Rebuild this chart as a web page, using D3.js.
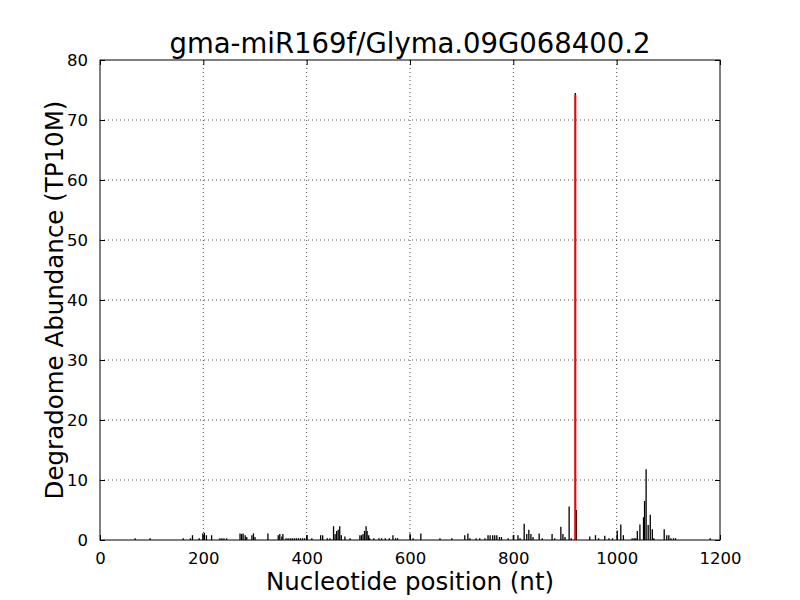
<!DOCTYPE html>
<html>
<head>
<meta charset="utf-8">
<script src="https://cdn.jsdelivr.net/npm/d3@7"></script>
<style>
  body { margin: 0; background: #fff; }
  svg { display: block; font-family: "DejaVu Sans", sans-serif; }
</style>
</head>
<body>
<svg id="chart" width="800" height="600"></svg>
<script>
const title = "gma-miR169f/Glyma.09G068400.2";
const xLabel = "Nucleotide position (nt)";
const yLabel = "Degradome Abundance (TP10M)";
const xTicks = [0, 200, 400, 600, 800, 1000, 1200];
const yTicks = [0, 10, 20, 30, 40, 50, 60, 70, 80];

const positions = [68,97,161,175,179,192,199,202,206,216,232,236,240,245,271,274,277,281,284,294,297,300,325,345,348,352,354,360,364,368,372,376,380,384,388,392,396,400,410,427,431,440,445,452,455,458,461,464,467,474,484,503,506,509,512,515,517,520,522,530,540,545,552,560,567,572,576,600,606,621,658,681,706,712,716,728,735,745,751,755,760,764,768,773,777,790,800,809,813,821,826,830,834,838,850,856,875,880,892,896,900,908,912,920,922,948,959,965,977,985,992,1001,1008,1013,1030,1034,1037,1040,1045,1052,1054,1057,1061,1065,1069,1072,1092,1097,1101,1105,1110,1114,1181];
const abundance = [0.3,0.3,0.3,0.3,0.8,0.3,1.1,1.2,0.8,0.8,0.3,0.3,0.3,0.3,1.1,1.0,1.1,0.8,0.5,0.8,1.1,0.5,1.1,0.8,1.0,0.6,1.0,0.3,0.3,0.3,0.3,0.3,0.3,0.3,0.3,0.3,0.3,0.8,0.3,0.8,0.8,0.3,0.3,2.3,1.0,1.5,1.7,2.3,0.8,0.6,0.3,0.8,0.8,1.0,1.5,2.3,1.5,0.8,0.3,0.3,0.3,0.3,0.3,0.3,0.8,0.3,0.3,1.1,0.3,1.1,0.3,0.3,0.8,1.1,0.3,0.3,0.3,0.3,0.8,0.8,0.8,0.8,0.8,0.5,0.5,0.3,0.8,0.8,0.3,2.7,1.0,1.7,1.0,0.5,1.1,0.3,1.0,0.3,2.2,1.0,0.5,5.6,0.3,74.5,5.0,0.6,0.8,0.3,0.7,0.3,0.3,1.6,2.6,0.8,0.3,0.3,0.3,1.5,2.6,3.8,6.5,11.8,2.5,4.2,1.8,0.3,1.8,0.8,0.8,0.3,0.3,0.3,0.3];
const sitePosition = [920];
const siteAbundance = [74.2];

const svg = d3.select("#chart");
const m = {left: 100, right: 720, top: 60, bottom: 540};
const x = d3.scaleLinear().domain([0, 1200]).range([m.left, m.right]);
const y = d3.scaleLinear().domain([0, 80]).range([m.bottom, m.top]);

// grid
const g = svg.append("g");
g.selectAll(".gx").data(xTicks.slice(1, -1)).enter().append("line")
  .attr("x1", d => x(d)).attr("x2", d => x(d))
  .attr("y1", m.top).attr("y2", m.bottom)
  .attr("stroke", "#000").attr("stroke-width", 0.7).attr("stroke-dasharray", "1,3");
g.selectAll(".gy").data(yTicks.slice(1, -1)).enter().append("line")
  .attr("y1", d => y(d)).attr("y2", d => y(d))
  .attr("x1", m.left).attr("x2", m.right)
  .attr("stroke", "#000").attr("stroke-width", 0.7).attr("stroke-dasharray", "1,3");

// bars
const data = positions.map((p, i) => ({p, v: abundance[i]}));
svg.append("g").selectAll("line").data(data).enter().append("line")
  .attr("x1", d => x(d.p)).attr("x2", d => x(d.p))
  .attr("y1", y(0)).attr("y2", d => y(d.v))
  .attr("stroke", "#000").attr("stroke-width", 1.3);

// cleavage site
const site = sitePosition.map((p, i) => ({p, v: siteAbundance[i]}));
svg.append("g").selectAll("line").data(site).enter().append("line")
  .attr("x1", d => x(d.p)).attr("x2", d => x(d.p))
  .attr("y1", y(0)).attr("y2", d => y(d.v))
  .attr("stroke", "#ff0000").attr("stroke-width", 2);

// axes frame
svg.append("rect").attr("x", m.left).attr("y", m.top)
  .attr("width", m.right - m.left).attr("height", m.bottom - m.top)
  .attr("fill", "none").attr("stroke", "#000").attr("stroke-width", 1);

const tl = 5;
const xb = svg.append("g").attr("transform", `translate(0,${m.bottom})`)
  .call(d3.axisBottom(x).tickValues(xTicks).tickSize(-tl).tickPadding(12).tickFormat(d3.format("d")));
const xt = svg.append("g").attr("transform", `translate(0,${m.top})`)
  .call(d3.axisTop(x).tickValues(xTicks).tickSize(-tl).tickFormat(""));
const yl = svg.append("g").attr("transform", `translate(${m.left},0)`)
  .call(d3.axisLeft(y).tickValues(yTicks).tickSize(-tl).tickPadding(12).tickFormat(d3.format("d")));
const yr = svg.append("g").attr("transform", `translate(${m.right},0)`)
  .call(d3.axisRight(y).tickValues(yTicks).tickSize(-tl).tickFormat(""));
[xb, xt, yl, yr].forEach(a => {
  a.select(".domain").remove();
  a.selectAll("line").attr("stroke", "#000");
  a.selectAll("text").attr("fill", "#000").style("font-size", "16.5px").style("font-family", "DejaVu Sans");
});

svg.append("text").attr("x", 410).attr("y", 53).attr("text-anchor", "middle")
  .style("font-size", "27.5px").text(title);
svg.append("text").attr("x", 410).attr("y", 590).attr("text-anchor", "middle")
  .style("font-size", "24.5px").text(xLabel);
svg.append("text").attr("transform", `translate(63,300) rotate(-90)`).attr("text-anchor", "middle")
  .style("font-size", "24.5px").text(yLabel);
</script>
</body>
</html>
